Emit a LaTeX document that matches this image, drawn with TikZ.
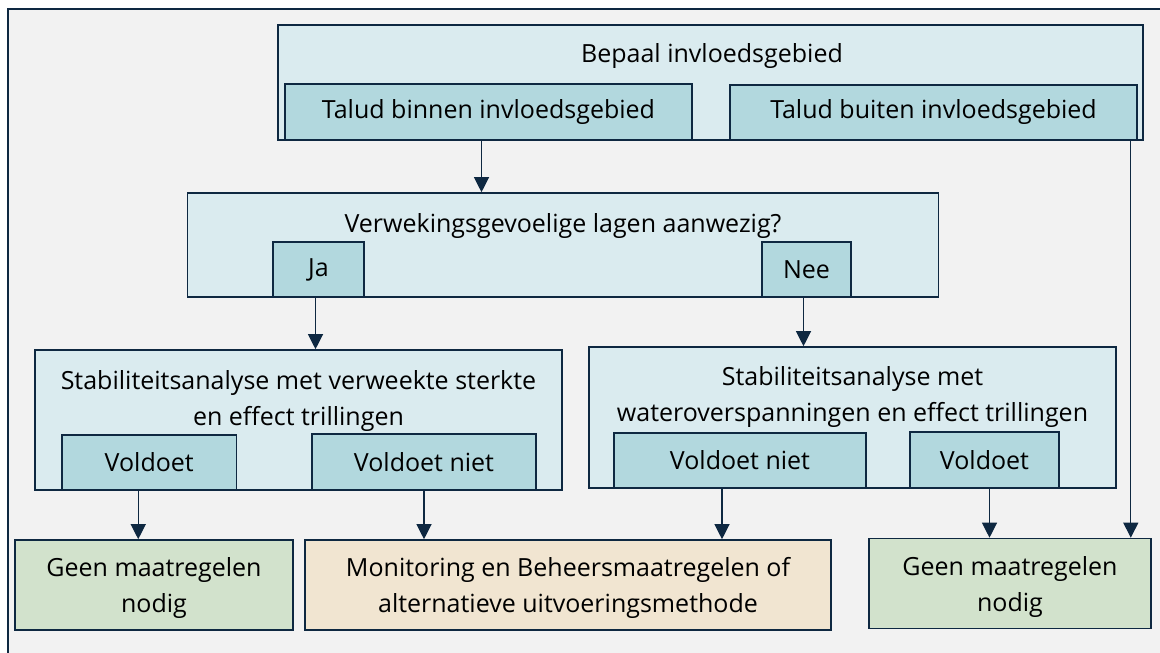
\documentclass[tikz,border=0pt]{standalone}
\usepackage{fontspec}
\setmainfont{Open Sans}
\usetikzlibrary{positioning}
\usetikzlibrary{arrows.meta}
\definecolor{navy}{HTML}{0E2841}
\definecolor{paneel}{HTML}{F2F2F2}
\definecolor{lichtblauw}{HTML}{DAEBEF}
\definecolor{blauw}{HTML}{B2D8DE}
\definecolor{groen}{HTML}{D2E2CC}
\definecolor{beige}{HTML}{F1E5D1}

\begin{document}
\begin{tikzpicture}[x=1pt, y=-1pt,
  font=\fontsize{25}{36}\selectfont,
  every node/.style={inner sep=0pt, align=center, text=black},
  vak/.style={draw=navy, line width=1.6pt, fill=lichtblauw},
  keuze/.style={draw=navy, line width=1.6pt, fill=blauw},
  uitkomst/.style={draw=navy, line width=1.6pt, text depth=-8pt},
  pijl/.style={draw=navy, line width=1.2pt, -{Triangle[width=15pt,length=15pt]}}]
  \useasboundingbox (0,0) rectangle (1160,653);
  \fill[white] (0,0) rectangle (1160,653);
  \fill[paneel] (8,9) rectangle (1160,653);
  \draw[navy, line width=1.4pt] (1160,9) -- (8,9) -- (8,653);

  % invloedsgebied
  \node[vak, minimum width=865, minimum height=115] (invloed) at (710.5,82.5) {};
  \node (invloedtxt) at (712,56) {Bepaal invloedsgebied};
  \node[keuze, minimum width=407, minimum height=56] (binnen) at (488.5,112) {Talud binnen invloedsgebied};
  \node[keuze, minimum width=407, minimum height=55] (buiten) at (933.5,112.5) {Talud buiten invloedsgebied};

  % verweking
  \node[vak, minimum width=751, minimum height=104] (verweking) at (563,245) {};
  \node (verwekingtxt) at (563,226) {Verwekingsgevoelige lagen aanwezig?};
  \node[keuze, minimum width=91, minimum height=55] (ja) at (318.5,269.5) {Ja};
  \node[keuze, minimum width=89, minimum height=55] (nee) at (806.5,269.5) {Nee};

  % stabiliteit links
  \node[vak, minimum width=527, minimum height=140] (stablinks) at (298.5,420) {};
  \node (stablinkstxt) at (298.5,401) {Stabiliteitsanalyse met verweekte sterkte\\en effect trillingen};
  \node[keuze, minimum width=174.5, minimum height=55] (voldoetlinks) at (149.25,462.5) {Voldoet};
  \node[keuze, minimum width=224, minimum height=56] (nietlinks) at (424,462) {Voldoet niet};

  % stabiliteit rechts
  \node[vak, minimum width=527, minimum height=141] (stabrechts) at (852.5,417.5) {};
  \node (stabrechtstxt) at (852.5,397.5) {Stabiliteitsanalyse met\\wateroverspanningen en effect trillingen};
  \node[keuze, minimum width=252, minimum height=55] (nietrechts) at (740,460.5) {Voldoet niet};
  \node[keuze, minimum width=149, minimum height=56] (voldoetrechts) at (984.5,460) {Voldoet};

  % uitkomsten
  \node[uitkomst, fill=groen, minimum width=278, minimum height=90] (geenlinks) at (154,585) {Geen maatregelen\\nodig};
  \node[uitkomst, fill=beige, minimum width=526, minimum height=90] (beheer) at (568,585) {Monitoring en Beheersmaatregelen of\\alternatieve uitvoeringsmethode};
  \node[uitkomst, fill=groen, minimum width=282, minimum height=90] (geenrechts) at (1010,583.5) {Geen maatregelen\\nodig};

  % pijlen
  \draw[pijl] ([xshift=-7pt]binnen.south) -- ([xshift=-7pt]binnen.south |- verweking.north);
  \draw[pijl] ([xshift=-3pt]ja.south) -- ([xshift=-3pt]ja.south |- stablinks.north);
  \draw[pijl] ([xshift=-3pt]nee.south) -- ([xshift=-3pt]nee.south |- stabrechts.north);
  \draw[pijl] ([xshift=-11pt]voldoetlinks.south) -- ([xshift=-11pt]voldoetlinks.south |- geenlinks.north);
  \draw[pijl] (nietlinks.south) -- (nietlinks.south |- beheer.north);
  \draw[pijl] ([xshift=-18pt]nietrechts.south) -- ([xshift=-18pt]nietrechts.south |- beheer.north);
  \draw[pijl] ([xshift=5pt]voldoetrechts.south) -- ([xshift=5pt]voldoetrechts.south |- geenrechts.north);
  \coordinate (buitenuit) at ([xshift=-7pt]buiten.south east);
  \draw[pijl] (buitenuit) -- (buitenuit |- geenrechts.north);
\end{tikzpicture}
\end{document}
